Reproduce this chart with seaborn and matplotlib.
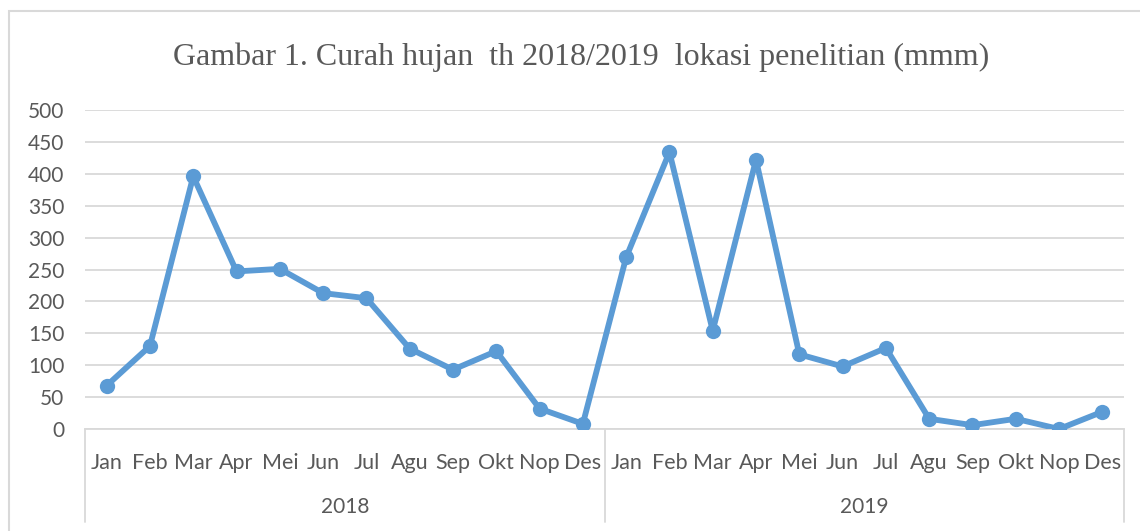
import numpy as np
import pandas as pd
import matplotlib
matplotlib.use("Agg")
import matplotlib.pyplot as plt
import seaborn as sns
from matplotlib.patches import Rectangle

sns.set_style("white")
plt.rcParams['font.family'] = ['Lato', 'DejaVu Sans']

# data
bulan = ["Jan", "Feb", "Mar", "Apr", "Mei", "Jun", "Jul", "Agu", "Sep", "Okt", "Nop", "Des"]
tahun = ["2018", "2019"]
hujan_2018 = [68, 130, 396, 247, 251, 213, 205, 126, 93, 122, 32, 8]
hujan_2019 = [269, 434, 154, 422, 117, 98, 127, 16, 6, 16, 0, 27]

df = pd.DataFrame({
    "bulan": bulan * 2,
    "tahun": [tahun[0]] * 12 + [tahun[1]] * 12,
    "curah": hujan_2018 + hujan_2019,
})
df["pos"] = np.arange(len(df))

W, H = 1140, 531
fig = plt.figure(figsize=(W / 100, H / 100), dpi=100)
ax = fig.add_axes([85 / W, 1 - 429 / H, (1124 - 85) / W, (429 - 110) / H])

grey = "#D9D9D9"
text_grey = "#595959"
blue = "#5B9BD5"

sns.lineplot(data=df, x="pos", y="curah", ax=ax, color=blue, linewidth=4.2,
             marker="o", markersize=11, markeredgewidth=0, zorder=3)

ax.set_xlim(-0.5, len(df) - 0.5)
ax.set_ylim(0, 500)
ax.set_yticks(range(0, 501, 50))
ax.set_xticks(df["pos"])
ax.set_xticklabels(df["bulan"])
ax.tick_params(axis="y", length=0, pad=15, labelsize=15, labelcolor=text_grey)
ax.tick_params(axis="x", length=0, pad=17, labelsize=15.5, labelcolor=text_grey)
ax.set_xlabel("")
ax.set_ylabel("")
ax.yaxis.grid(True, color=grey, linewidth=1.3)
for s in ["top", "right", "left"]:
    ax.spines[s].set_visible(False)
ax.spines["bottom"].set_color(grey)
ax.spines["bottom"].set_linewidth(1.3)

# category group separators and year labels
trans = ax.get_xaxis_transform()
for xv in [-0.5, 11.5, 23.5]:
    ax.plot([xv, xv], [0, -0.2915], transform=trans, color=grey, lw=1.3, clip_on=False)
for i, th in enumerate(tahun):
    ax.text(5.5 + 12 * i, -0.2445, th, transform=trans, ha="center", va="center",
            fontsize=15, color=text_grey)

fig.text(0.51, 1 - 57.6 / H, "Gambar 1. Curah hujan  th 2018/2019  lokasi penelitian (mmm)",
         ha="center", va="center", fontsize=23, color=text_grey, family=["Liberation Serif"])

fig.patches.append(Rectangle((9 / W, -0.1), 1.2, 1.1 - 11 / H, transform=fig.transFigure,
                             fill=False, edgecolor=grey, linewidth=1.5))

fig.savefig("out.png", dpi=100, facecolor="white")
